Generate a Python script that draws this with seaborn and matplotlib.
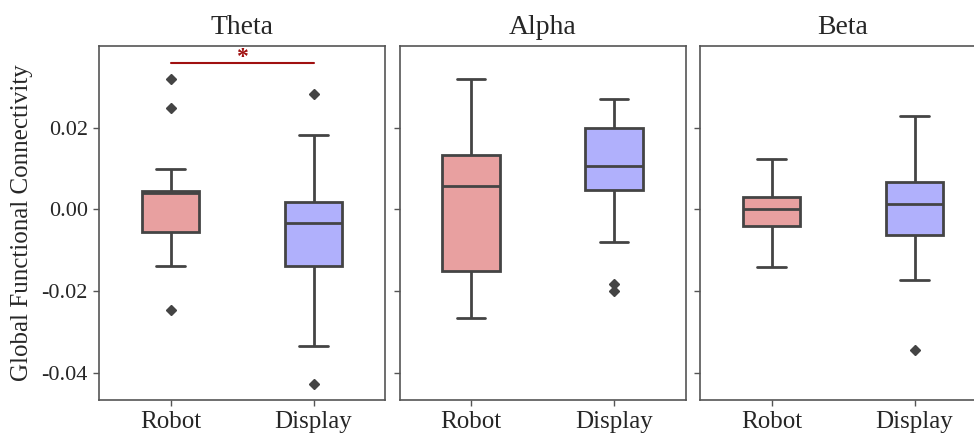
import numpy as np
import pandas as pd
import matplotlib
matplotlib.use('Agg')
import matplotlib.pyplot as plt
import seaborn as sns

# Valores (13 sujetos por grupo)
BANDS = ['Theta', 'Alpha', 'Beta']
GROUPS = ['Robot', 'Display']

theta_robot = [-0.0245, -0.0139, -0.0100, -0.0056, -0.0030, 0.0010, 0.0040,
               0.0042, 0.0044, 0.0045, 0.0100, 0.0247, 0.0318]
theta_display = [-0.0427, -0.0334, -0.0200, -0.0139, -0.0100, -0.0060, -0.0034,
                 -0.0010, 0.0005, 0.0018, 0.0100, 0.0181, 0.0283]
alpha_robot = [-0.0266, -0.0200, -0.0170, -0.0151, -0.0050, 0.0010, 0.0057,
               0.0090, 0.0120, 0.0134, 0.0200, 0.0260, 0.0318]
alpha_display = [-0.0200, -0.0183, -0.0080, 0.0048, 0.0070, 0.0090, 0.0105,
                 0.0140, 0.0170, 0.0200, 0.0230, 0.0250, 0.0270]
beta_robot = [-0.0140, -0.0100, -0.0070, -0.0041, -0.0020, -0.0005, 0.0002,
              0.0015, 0.0025, 0.0031, 0.0060, 0.0090, 0.0124]
beta_display = [-0.0343, -0.0172, -0.0120, -0.0063, -0.0030, -0.0010, 0.0013,
                0.0030, 0.0050, 0.0068, 0.0120, 0.0180, 0.0227]

DATA = {
    'Theta': {'Robot': theta_robot, 'Display': theta_display},
    'Alpha': {'Robot': alpha_robot, 'Display': alpha_display},
    'Beta': {'Robot': beta_robot, 'Display': beta_display},
}

SIG_BAND = 'Theta'
SIG_Y = 0.0357
STAR_Y = 0.0345

PALETTE = {'Robot': '#e8a0a0', 'Display': '#b0b0fc'}
LINE = '#444444'
SPINE = '#555555'
SIG_COLOR = '#a01010'

rows = []
for band in BANDS:
    for g in GROUPS:
        for v in DATA[band][g]:
            rows.append({'band': band, 'group': g, 'value': v})
df = pd.DataFrame(rows)

sns.set_style('white')
plt.rcParams['font.family'] = ['Liberation Serif', 'DejaVu Serif']

fig = plt.figure(figsize=(9.74, 4.36), dpi=100)
W, H = 974, 436
lefts = [99, 399.5, 700]
axes = []
for l in lefts:
    ax = fig.add_axes([l / W, 36 / H, 286 / W, 354 / H])
    axes.append(ax)

for ax, band in zip(axes, BANDS):
    sub = df[df['band'] == band]
    sns.boxplot(data=sub, x='group', y='value', hue='group', order=GROUPS,
                hue_order=GROUPS, palette=PALETTE, legend=False, ax=ax,
                width=0.4, linewidth=2, linecolor=LINE, saturation=1,
                flierprops=dict(marker='D', markersize=5,
                                markerfacecolor=LINE, markeredgecolor=LINE))
    ax.set_ylim(-0.0465, 0.0399)
    ax.set_xlim(-0.5, 1.5)
    ax.set_yticks([-0.04, -0.02, 0.0, 0.02])
    ax.set_title(band, fontsize=20, pad=9)
    ax.set_xlabel('')
    ax.set_ylabel('')
    for s in ax.spines.values():
        s.set_visible(True)
        s.set_color(SPINE)
        s.set_linewidth(1.2)
    ax.tick_params(axis='both', which='both', direction='out', length=4,
                   width=1, color=SPINE, left=True, bottom=True)
    ax.tick_params(axis='x', labelsize=18, pad=4)
    ax.tick_params(axis='y', labelsize=16, pad=4)
    if band != 'Theta':
        ax.set_yticklabels([])
    else:
        ax.set_yticklabels(['-0.04', '-0.02', '0.00', '0.02'])
        ax.set_ylabel('Global Functional Connectivity', fontsize=18, labelpad=6)
    if band == SIG_BAND:
        ax.plot([0, 1], [SIG_Y, SIG_Y], color=SIG_COLOR, linewidth=1.5)
        ax.text(0.5, STAR_Y, '*', color=SIG_COLOR, fontsize=17,
                ha='center', va='bottom', fontweight='bold')

fig.savefig('out.png', dpi=100)
